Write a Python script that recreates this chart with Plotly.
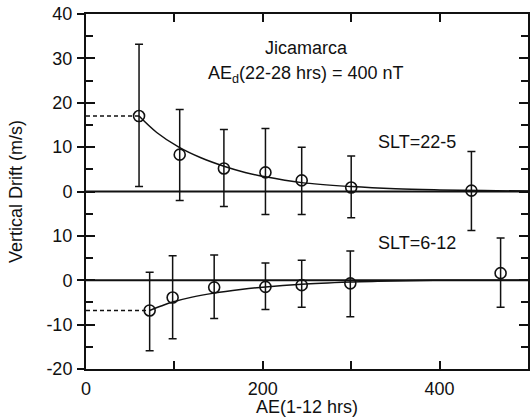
import plotly.graph_objects as go

# ---- data ----
OFFSET = 20  # top panel zero sits at +20 on the shared scale

top_x = [60, 106, 156, 203, 244, 300, 436]
top_y = [17.0, 8.3, 5.2, 4.3, 2.5, 0.9, 0.2]
top_hi = [33.2, 18.5, 14.0, 14.2, 10.0, 8.0, 9.0]
top_lo = [1.1, -2.0, -3.4, -5.2, -5.2, -5.9, -8.8]

top_fit_x = [60, 80, 105, 130, 156, 180, 203, 244, 300, 350, 400, 450, 500]
top_fit_y = [17.0, 13.3, 10.0, 7.6, 5.7, 4.3, 3.3, 2.0, 1.1, 0.6, 0.35, 0.2, 0.1]

bot_x = [72, 98, 145, 203, 244, 299, 469]
bot_y = [-6.8, -3.9, -1.6, -1.5, -1.1, -0.7, 1.6]
bot_hi = [1.8, 5.5, 5.7, 3.9, 4.5, 6.6, 9.5]
bot_lo = [-15.9, -13.2, -8.6, -6.6, -6.1, -8.2, -6.1]

bot_fit_x = [72, 85, 98, 120, 145, 175, 203, 244, 300, 330, 400, 500]
bot_fit_y = [-6.8, -5.8, -4.9, -3.8, -2.9, -2.1, -1.5, -0.9, -0.4, -0.2, 0.0, 0.0]

ytick_vals = [-20, -10, 0, 10, 20, 30, 40, 50, 60]
ytick_text = ["-20", "-10", "0", "10", "0", "10", "20", "30", "40"]
xtick_vals = [0, 200, 400]
xtick_text = ["0", "200", "400"]
xminor_vals = [100, 300, 500]

FONT = "Liberation Sans, Arial, Helvetica, sans-serif"
BLACK = "#111111"
FS = 18

fig = go.Figure()

# zero lines
for z in [0, OFFSET]:
    fig.add_trace(go.Scatter(x=[0, 500], y=[z, z], mode="lines",
                             line=dict(color=BLACK, width=2), hoverinfo="skip",
                             showlegend=False))

# dashed guide lines
fig.add_trace(go.Scatter(x=[0, top_x[0]], y=[top_y[0] + OFFSET] * 2, mode="lines",
                         line=dict(color=BLACK, width=1.5, dash="4px,3px"),
                         showlegend=False))
fig.add_trace(go.Scatter(x=[0, bot_x[0]], y=[bot_y[0]] * 2, mode="lines",
                         line=dict(color=BLACK, width=1.5, dash="4px,3px"),
                         showlegend=False))

# fitted curves
fig.add_trace(go.Scatter(x=top_fit_x, y=[v + OFFSET for v in top_fit_y], mode="lines",
                         line=dict(color=BLACK, width=1.5, shape="spline"),
                         showlegend=False))
fig.add_trace(go.Scatter(x=bot_fit_x, y=bot_fit_y, mode="lines",
                         line=dict(color=BLACK, width=1.5, shape="spline"),
                         showlegend=False))

# data with error bars
def add_pts(xs, ys, hi, lo, off):
    fig.add_trace(go.Scatter(
        x=xs, y=[v + off for v in ys], mode="markers",
        marker=dict(symbol="circle-open", size=11, color=BLACK,
                    line=dict(width=1.6, color=BLACK)),
        error_y=dict(type="data", symmetric=False,
                     array=[h - v for h, v in zip(hi, ys)],
                     arrayminus=[v - l for l, v in zip(lo, ys)],
                     color=BLACK, thickness=1.5, width=4),
        showlegend=False))

add_pts(top_x, top_y, top_hi, top_lo, OFFSET)
add_pts(bot_x, bot_y, bot_hi, bot_lo, 0)

# outside halves of major y ticks
fig.add_trace(go.Scatter(x=[None], y=[None], yaxis="y2", showlegend=False))

annots = [
    dict(x=249, y=52.3, text="Jicamarca"),
    dict(x=249, y=46.3, text="AE<sub>d</sub>(22-28 hrs) = 400 nT"),
    dict(x=374, y=31.2, text="SLT=22-5"),
    dict(x=374, y=8.4, text="SLT=6-12"),
]
for a in annots:
    fig.add_annotation(x=a["x"], y=a["y"], text=a["text"], showarrow=False,
                       xanchor="center", yanchor="middle",
                       font=dict(family=FONT, size=FS, color=BLACK))

fig.update_layout(
    width=530, height=417,
    margin=dict(l=86, r=0, t=14, b=48),
    paper_bgcolor="white", plot_bgcolor="white",
    font=dict(family=FONT, size=FS, color=BLACK),
    xaxis=dict(range=[0, 500], tickvals=xtick_vals, ticktext=xtick_text,
               ticks="inside", ticklen=8, tickwidth=1.5, tickcolor=BLACK,
               minor=dict(tickvals=xminor_vals, ticks="inside", ticklen=8,
                          tickwidth=1.5, tickcolor=BLACK),
               showline=True, linewidth=2, linecolor=BLACK, mirror="allticks",
               showgrid=False, zeroline=False, ticklabelstandoff=2,
               title=dict(text="AE(1-12 hrs)", standoff=0,
                          font=dict(family=FONT, size=FS))),
    yaxis=dict(range=[-20, 60], tickvals=ytick_vals, ticktext=ytick_text,
               ticks="inside", ticklen=9, tickwidth=1.5, tickcolor=BLACK,
               minor=dict(tickvals=[-15, -5, 5, 15, 25, 35, 45, 55],
                          ticks="inside", ticklen=7, tickwidth=1.5, tickcolor=BLACK),
               showline=True, linewidth=2, linecolor=BLACK, mirror="allticks",
               showgrid=False, zeroline=False, ticklabelstandoff=8,
               title=dict(text="Vertical Drift (m/s)", standoff=19,
                          font=dict(family=FONT, size=FS))),
    yaxis2=dict(range=[-20, 60], overlaying="y", side="left", anchor="x",
                tickvals=ytick_vals, showticklabels=False,
                ticks="outside", ticklen=8, tickwidth=1.5, tickcolor=BLACK,
                showline=False, showgrid=False, zeroline=False),
)

fig.write_html("out.html")
